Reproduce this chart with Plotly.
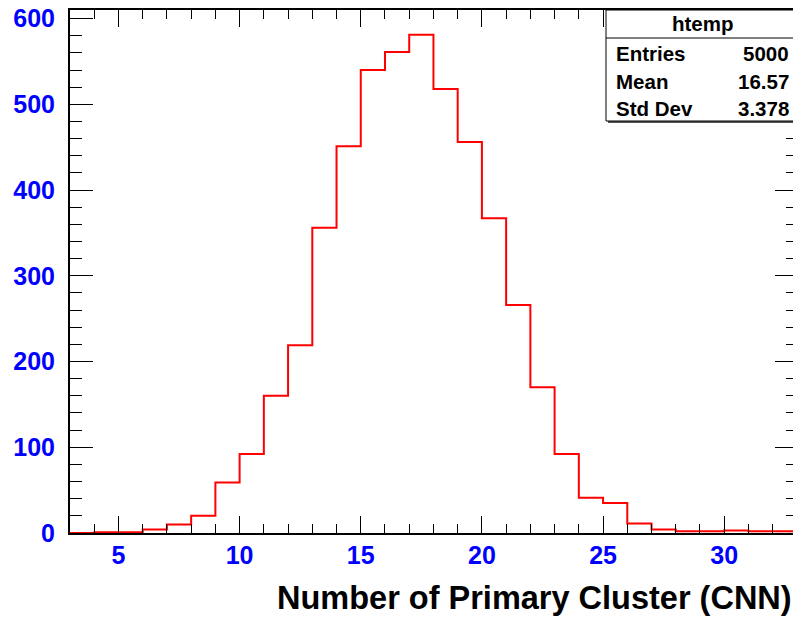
import plotly.graph_objects as go

# Histogram "htemp": number of primary clusters (CNN), 1-unit bins from 3 to 33
bin_edges = [3, 4, 5, 6, 7, 8, 9, 10, 11, 12, 13, 14, 15, 16, 17, 18, 19, 20,
             21, 22, 23, 24, 25, 26, 27, 28, 29, 30, 31, 32, 33]
counts = [0, 1, 1, 4, 10, 20, 59, 92, 160, 219, 356, 451, 540, 561, 581, 518,
          456, 367, 266, 170, 92, 41, 35, 11, 4, 2, 2, 3, 2, 2]

stats_title = "htemp"
stats_labels = ["Entries", "Mean", "Std Dev"]
stats_values = ["5000", "16.57", "3.378"]
x_title = "Number of Primary Cluster (CNN)"

W, H = 793, 619
ML, MR, MT, MB = 70, 0, 10, 86
PW, PH = W - ML - MR, H - MT - MB


def px(x):
    return (x - ML) / PW


def py(y):
    return (H - MB - y) / PH


FONT = "Liberation Sans, Arial, Helvetica, sans-serif"
y_range = [0, 610]

fig = go.Figure()
# step outline of the histogram
fig.add_trace(go.Scatter(
    x=bin_edges, y=counts + [counts[-1]], mode="lines",
    line=dict(shape="hv", color="#ff0000", width=2),
    hoverinfo="skip", showlegend=False))
# invisible trace carrying the right-hand tick axis
fig.add_trace(go.Scatter(
    x=bin_edges, y=counts + [counts[-1]], mode="lines", yaxis="y2",
    line=dict(width=0), opacity=0, hoverinfo="skip", showlegend=False))

fig.update_layout(
    width=W, height=H,
    margin=dict(l=ML, r=MR, t=MT, b=MB, pad=0),
    paper_bgcolor="white", plot_bgcolor="white",
    font=dict(family=FONT),
    xaxis=dict(
        range=[3, 3 + PW / 24.23], showgrid=False, zeroline=False,
        showline=True, linecolor="black", linewidth=2, mirror="ticks",
        ticks="inside", ticklen=17, tickwidth=1, tickcolor="black",
        tick0=0, dtick=5,
        minor=dict(ticks="inside", ticklen=9, tickwidth=1, tickcolor="black",
                   tick0=0, dtick=1, showgrid=False),
        tickfont=dict(family=FONT, size=25, color="#0000ff", weight="bold"),
        ticklabelstandoff=-1,
    ),
    yaxis=dict(
        range=y_range, showgrid=False, zeroline=False,
        showline=True, linecolor="black", linewidth=2,
        ticks="inside", ticklen=23, tickwidth=1, tickcolor="black",
        tick0=0, dtick=100,
        minor=dict(ticks="inside", ticklen=12, tickwidth=1, tickcolor="black",
                   tick0=0, dtick=20, showgrid=False),
        tickfont=dict(family=FONT, size=25, color="#0000ff", weight="bold"),
        ticklabelstandoff=8,
    ),
    yaxis2=dict(
        range=y_range, overlaying="y", side="right", anchor="x",
        showgrid=False, zeroline=False, showline=False,
        ticks="inside", ticklen=18, tickwidth=1, tickcolor="black",
        tick0=0, dtick=100, showticklabels=False,
        minor=dict(ticks="inside", ticklen=7, tickwidth=1, tickcolor="black",
                   tick0=0, dtick=20, showgrid=False),
    ),
)

# statistics box
box_x0, box_y0, box_y1, sep_y = 606, 10, 121, 38
fig.add_shape(type="rect", xref="paper", yref="paper",
              x0=px(box_x0 + 2), x1=px(W + 10), y0=py(box_y1 + 2), y1=py(box_y0 + 2),
              fillcolor="#555555", line=dict(width=0))
fig.add_shape(type="rect", xref="paper", yref="paper",
              x0=px(box_x0), x1=px(W + 10), y0=py(box_y1), y1=py(box_y0),
              fillcolor="white", line=dict(color="black", width=1))
fig.add_shape(type="line", xref="paper", yref="paper",
              x0=px(box_x0), x1=px(W + 10), y0=py(sep_y), y1=py(sep_y),
              line=dict(color="black", width=1))

stat_font = dict(family=FONT, size=20.5, color="black", weight="bold")
fig.add_annotation(xref="paper", yref="paper", x=px(703), y=py(23),
                   text=stats_title, showarrow=False, xanchor="center",
                   yanchor="middle", font=stat_font)
row_y = [53, 81, 108]
for lab, val, yy in zip(stats_labels, stats_values, row_y):
    fig.add_annotation(xref="paper", yref="paper", x=px(614), y=py(yy),
                       text=lab, showarrow=False, xanchor="left",
                       yanchor="middle", font=stat_font)
    fig.add_annotation(xref="paper", yref="paper", x=px(791), y=py(yy),
                       text=val, showarrow=False, xanchor="right",
                       yanchor="middle", font=stat_font)

# x-axis title, right aligned to the end of the axis
fig.add_annotation(xref="paper", yref="paper", x=px(794), y=py(598),
                   text=x_title, showarrow=False, xanchor="right",
                   yanchor="middle",
                   font=dict(family=FONT, size=32.5, color="black", weight="bold"))

fig.write_html("out.html")
